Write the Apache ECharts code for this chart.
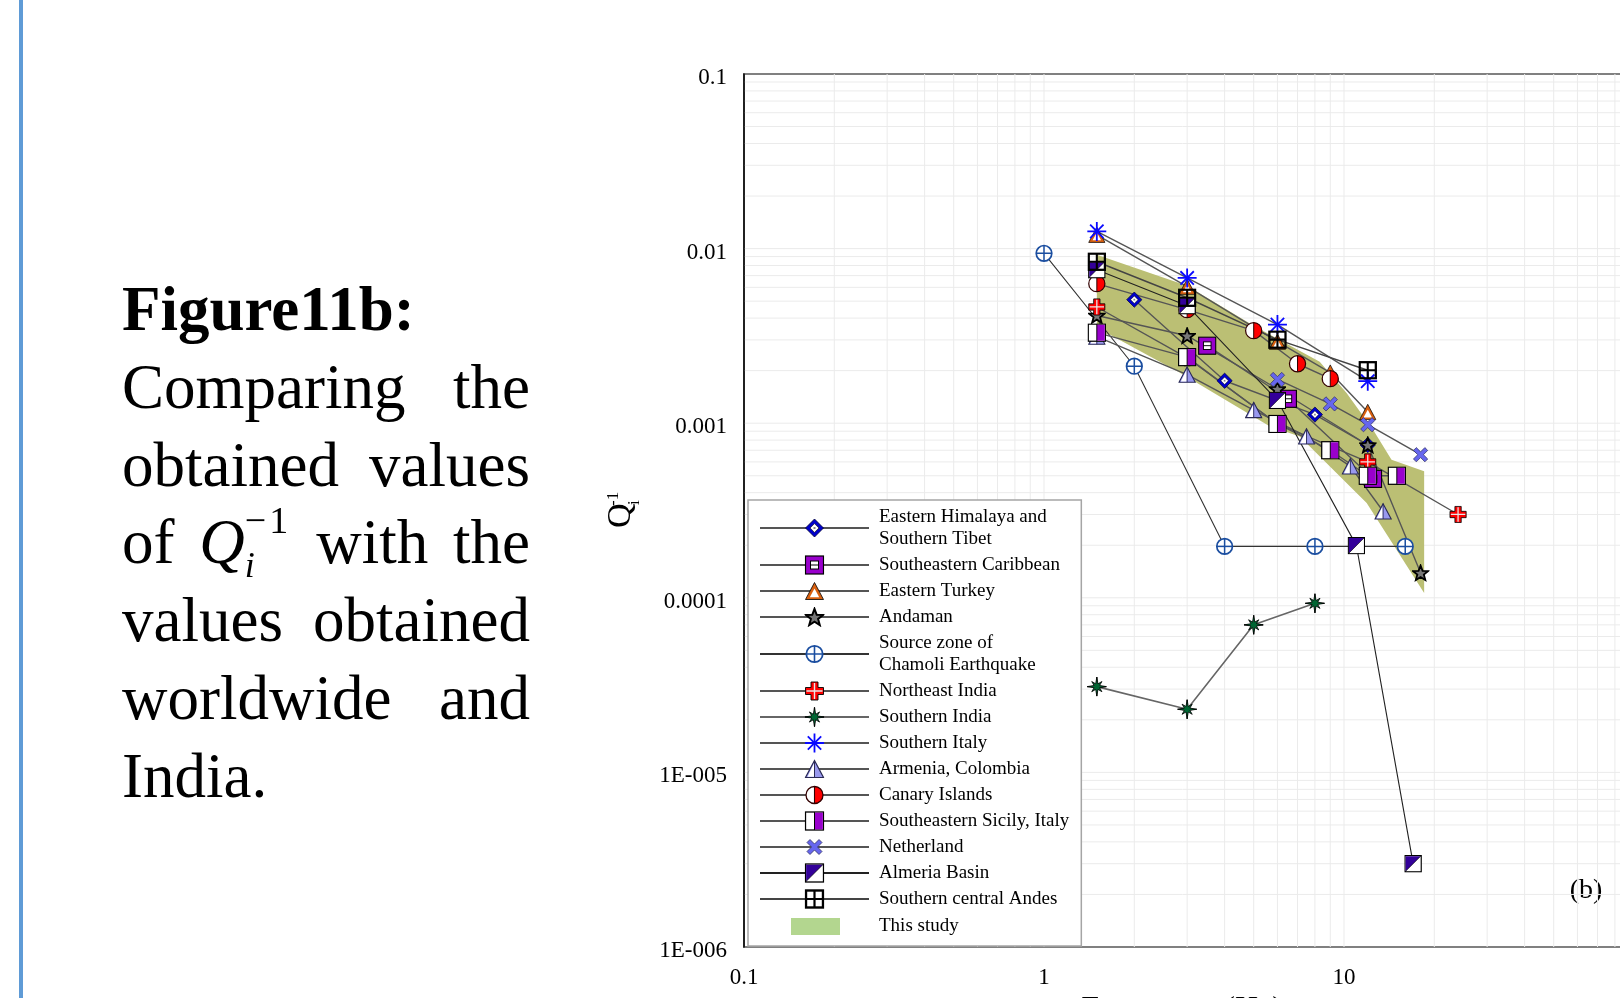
<!DOCTYPE html>
<html>
<head>
<meta charset="utf-8">
<title>Figure 11b</title>
<script src="https://cdn.jsdelivr.net/npm/echarts@6.0.0/dist/echarts.min.js"></script>
<style>
  html, body { margin:0; padding:0; background:#fff; }
  body { width:1620px; height:998px; overflow:hidden; position:relative; }
  #chart { position:absolute; left:0; top:0; width:1620px; height:998px; }
  #bar { position:absolute; left:19px; top:0; width:4px; height:998px; background:#5f9bd6; }
  #cap { position:absolute; left:122px; top:271px; width:408px; font-family:'Liberation Serif','Times New Roman',serif; font-size:63px; line-height:77.8px; color:#000; }
  #cap div { width:408px; height:77.8px; white-space:nowrap; }
  #cap div.j { text-align:justify; text-align-last:justify; white-space:normal; }
  #cap b { font-weight:bold; }
  .sb { font-size:36px; line-height:0; font-style:italic; position:relative; top:14px; }
  .sp { font-size:38px; line-height:0; position:relative; top:-30px; margin-left:-10px; letter-spacing:3px; }
</style>
</head>
<body>
<div id="bar"></div>
<div id="chart"></div>
<div id="cap">
  <div><b>Figure11b:</b></div>
  <div class="j">Comparing the</div>
  <div class="j">obtained values</div>
  <div class="j">of <i>Q</i><span class="sb">i</span><span class="sp">−1</span> with the</div>
  <div class="j">values obtained</div>
  <div class="j">worldwide and</div>
  <div>India.</div>
</div>
<script>
// ---------------- data ----------------
const xTickValues = [0.1, 1, 10, 100];
const xTickLabels = ['0.1', '1', '10', '100'];
const yTickValues = [1e-6, 1e-5, 1e-4, 1e-3, 1e-2, 1e-1];
const yTickLabels = ['1E-006', '1E-005', '0.0001', '0.001', '0.01', '0.1'];

const seriesNames = [
  'Eastern Himalaya and\nSouthern Tibet', 'Southeastern Caribbean', 'Eastern Turkey', 'Andaman',
  'Source zone of\nChamoli Earthquake', 'Northeast India', 'Southern India', 'Southern Italy',
  'Armenia, Colombia', 'Canary Islands', 'Southeastern Sicily, Italy', 'Netherland',
  'Almeria Basin', 'Southern central Andes', 'This study'
];

const himalayaF = [2, 4, 8, 12];
const himalayaQ = [0.0051, 0.00175, 0.00112, 0.00075];
const caribbeanF = [3.5, 6.5, 12.5];
const caribbeanQ = [0.00278, 0.00138, 0.00048];
const turkeyF = [1.5, 3, 6, 9, 12];
const turkeyQ = [0.0120, 0.00605, 0.00293, 0.00195, 0.00116];
const andamanF = [1.5, 3, 6, 12, 18];
const andamanQ = [0.00414, 0.00317, 0.00157, 0.00075, 0.000139];
const chamoliF = [1, 2, 4, 8, 16];
const chamoliQ = [0.0094, 0.00212, 0.000197, 0.000197, 0.000197];
const neIndiaF = [1.5, 3, 6, 12, 24];
const neIndiaQ = [0.00463, 0.00237, 0.00099, 0.0006, 0.0003];
const sIndiaF = [1.5, 3, 5, 8];
const sIndiaQ = [3.1e-5, 2.3e-5, 7.0e-5, 9.3e-5];
const sItalyF = [1.5, 3, 6, 12];
const sItalyQ = [0.01255, 0.00679, 0.00367, 0.00174];
const armeniaF = [1.5, 3, 5, 7.5, 10.5, 13.5];
const armeniaQ = [0.00313, 0.0019, 0.00119, 0.00084, 0.000566, 0.000313];
const canaryF = [1.5, 3, 5, 7, 9];
const canaryQ = [0.0063, 0.00447, 0.00339, 0.00219, 0.0018];
const sicilyF = [1.5, 3, 6, 9, 12, 15];
const sicilyQ = [0.0033, 0.00239, 0.00099, 0.0007, 0.0005, 0.0005];
const netherlandF = [6, 9, 12, 18];
const netherlandQ = [0.00178, 0.00129, 0.00098, 0.00066];
const almeriaF = [1.5, 3, 6, 11, 17];
const almeriaQ = [0.00757, 0.00471, 0.00135, 0.000199, 3.0e-6];
const andesF = [1.5, 3, 6, 12];
const andesQ = [0.00841, 0.00523, 0.00301, 0.00201];

// "This study" band outline (upper edge left->right, then lower edge right->left)
const bandF = [1.5, 3.0, 5.0, 8.3, 10.2, 12.5, 14.4, 18.5, 18.5, 11.9, 7.12, 5.65, 2.83, 1.66, 1.5];
const bandQ = [0.00923, 0.00613, 0.00362, 0.00225, 0.00149, 0.000918, 0.000618, 0.00053,
               0.0001066, 0.000349, 0.00084, 0.00096, 0.00195, 0.00321, 0.0033];

// gridline positions (1..9 per decade)
const gridMult = [1, 2, 3, 4, 5, 6, 7, 8, 9];
const xDecades = [0.1, 1, 10];
const yDecades = [1e-6, 1e-5, 1e-4, 1e-3, 1e-2];

// ---------------- symbols ----------------
function svgSym(body, w, h) {
  w = w || 20; h = h || 20;
  return 'image://data:image/svg+xml;charset=utf-8,' + encodeURIComponent(
    '<svg xmlns="http://www.w3.org/2000/svg" width="' + (w * 3) + '" height="' + (h * 3) +
    '" viewBox="0 0 ' + w + ' ' + h + '">' + body + '</svg>');
}
function starPts(n, rOut, rIn, cx, cy, rot) {
  const p = [];
  for (let k = 0; k < 2 * n; k++) {
    const a = (rot + k * 180 / n) * Math.PI / 180;
    const r = k % 2 === 0 ? rOut : rIn;
    p.push((cx + r * Math.cos(a)).toFixed(2) + ',' + (cy + r * Math.sin(a)).toFixed(2));
  }
  return p.join(' ');
}
function sIndiaPts() {
  const p = [];
  for (let k = 0; k < 16; k++) {
    const a = (-90 + k * 22.5) * Math.PI / 180;
    const r = k % 2 === 1 ? 3.0 : (k % 4 === 0 ? 9.5 : 7.2);
    p.push((10 + r * Math.cos(a)).toFixed(2) + ',' + (10 + r * Math.sin(a)).toFixed(2));
  }
  return p.join(' ');
}
const SYM = {
  himalaya: svgSym('<polygon points="10,1 19,10 10,19 1,10" fill="#0000cc" stroke="#000033" stroke-width="0.8"/>' +
    '<polygon points="10,5.6 14.4,10 10,14.4 5.6,10" fill="#fff" stroke="#000" stroke-width="0.6"/>' +
    '<rect x="9" y="9" width="2" height="2" fill="#888"/>'),
  caribbean: svgSym('<rect x="1" y="1" width="18" height="18" fill="#9900cc" stroke="#000" stroke-width="1.2"/>' +
    '<rect x="6" y="6" width="8" height="8" fill="#fff" stroke="#000" stroke-width="1"/>' +
    '<line x1="6" y1="10" x2="14" y2="10" stroke="#000" stroke-width="1"/>'),
  turkey: svgSym('<polygon points="10,1.5 19,18.5 1,18.5" fill="#d9600f" stroke="#000" stroke-width="0.8"/>' +
    '<polygon points="10,7.6 14.7,16.2 5.3,16.2" fill="#fff"/>'),
  andaman: svgSym('<polygon points="' + starPts(5, 9, 3.8, 10, 10.8, -90) + '" fill="#777" stroke="#000" stroke-width="2" stroke-linejoin="miter"/>'),
  chamoli: svgSym('<circle cx="10" cy="10" r="8.2" fill="#fff" stroke="#1b4ea0" stroke-width="1.8"/>' +
    '<line x1="10" y1="1.8" x2="10" y2="18.2" stroke="#1b4ea0" stroke-width="1.6"/>' +
    '<line x1="1.8" y1="10" x2="18.2" y2="10" stroke="#1b4ea0" stroke-width="1.6"/>'),
  neIndia: svgSym('<polygon points="6.5,1 13.5,1 13.5,6.5 19,6.5 19,13.5 13.5,13.5 13.5,19 6.5,19 6.5,13.5 1,13.5 1,6.5 6.5,6.5" fill="#ff0000" stroke="#000" stroke-width="0.9"/>' +
    '<line x1="10" y1="2" x2="10" y2="18" stroke="#e8e8e8" stroke-width="1.4"/>' +
    '<line x1="2" y1="10" x2="18" y2="10" stroke="#e8e8e8" stroke-width="1.4"/>'),
  sIndia: svgSym('<line x1="10" y1="0.3" x2="10" y2="19.7" stroke="#000" stroke-width="1.2"/>' +
    '<line x1="0.3" y1="10" x2="19.7" y2="10" stroke="#000" stroke-width="1.2"/>' +
    '<polygon points="' + sIndiaPts() + '" fill="#006633" stroke="#000" stroke-width="0.8"/>'),
  sItaly: svgSym('<g stroke="#0a0aff" stroke-width="1.8" stroke-linecap="butt">' +
    '<line x1="10" y1="0.5" x2="10" y2="19.5"/><line x1="0.5" y1="10" x2="19.5" y2="10"/>' +
    '<line x1="3.3" y1="3.3" x2="16.7" y2="16.7"/><line x1="16.7" y1="3.3" x2="3.3" y2="16.7"/></g>'),
  armenia: svgSym('<polygon points="10,1.5 19,18.5 1,18.5" fill="#9999ee" stroke="#2a2a55" stroke-width="1.2"/>' +
    '<polygon points="9.6,4.2 9.6,17.7 3,17.7" fill="#fff"/>' +
    '<line x1="10" y1="1.5" x2="10" y2="18.5" stroke="#2a2a55" stroke-width="1"/>'),
  canary: svgSym('<path d="M10,1.5 A8.5,8.5 0 0,1 10,18.5 Z" fill="#ff0000"/>' +
    '<path d="M10,1.5 A8.5,8.5 0 0,0 10,18.5 Z" fill="#fff"/>' +
    '<circle cx="10" cy="10" r="8.5" fill="none" stroke="#300" stroke-width="1.3"/>' +
    '<line x1="10" y1="1.5" x2="10" y2="18.5" stroke="#300" stroke-width="1.1"/>'),
  sicily: svgSym('<rect x="1" y="1" width="18" height="18" fill="#fff" stroke="#000" stroke-width="1.3"/>' +
    '<rect x="10" y="1.65" width="8.35" height="16.7" fill="#9900cc"/>' +
    '<line x1="10" y1="1" x2="10" y2="19" stroke="#000" stroke-width="1"/>'),
  netherland: svgSym('<path d="M2.5,5.5 L5.5,2.5 L10,7 L14.5,2.5 L17.5,5.5 L13,10 L17.5,14.5 L14.5,17.5 L10,13 L5.5,17.5 L2.5,14.5 L7,10 Z" fill="#6666ee" stroke="#333366" stroke-width="0.8"/>'),
  almeria: svgSym('<rect x="1" y="1" width="18" height="18" fill="#fff" stroke="#000" stroke-width="1.3"/>' +
    '<polygon points="1.65,1.65 18.35,1.65 1.65,18.35" fill="#330099"/>' +
    '<line x1="1" y1="19" x2="19" y2="1" stroke="#000" stroke-width="0.7"/>'),
  andes: svgSym('<rect x="1.5" y="1.5" width="17" height="17" fill="none" stroke="#000" stroke-width="2.4"/>' +
    '<line x1="10" y1="1.5" x2="10" y2="18.5" stroke="#000" stroke-width="2.2"/>' +
    '<line x1="1.5" y1="10" x2="18.5" y2="10" stroke="#000" stroke-width="2.2"/>')
};
const bandIcon = svgSym('<rect x="31" y="4" width="49" height="17" fill="#b3d68f"/>', 109, 25);

// ---------------- series ----------------
function zip(f, q) { return f.map((v, i) => [v, q[i]]); }
const defs = [
  [himalayaF, himalayaQ, SYM.himalaya, 17, '#555', 1.4],
  [caribbeanF, caribbeanQ, SYM.caribbean, 19, '#555', 1.4],
  [turkeyF, turkeyQ, SYM.turkey, 18, '#555', 1.4],
  [andamanF, andamanQ, SYM.andaman, 18, '#555', 1.4],
  [chamoliF, chamoliQ, SYM.chamoli, 19, '#333', 1.1],
  [neIndiaF, neIndiaQ, SYM.neIndia, 18, '#555', 1.4],
  [sIndiaF, sIndiaQ, SYM.sIndia, 20, '#666', 1.6],
  [sItalyF, sItalyQ, SYM.sItaly, 20, '#555', 1.4],
  [armeniaF, armeniaQ, SYM.armenia, 18, '#555', 1.4],
  [canaryF, canaryQ, SYM.canary, 19, '#555', 1.4],
  [sicilyF, sicilyQ, SYM.sicily, 19, '#555', 1.4],
  [netherlandF, netherlandQ, SYM.netherland, 19, '#555', 1.4],
  [almeriaF, almeriaQ, SYM.almeria, 18, '#222', 1.1],
  [andesF, andesQ, SYM.andes, 19, '#444', 1.4]
];

const series = [];
// gridlines
const xGrid = [], yGrid = [];
xDecades.forEach(d => gridMult.forEach(m => { const v = +(d * m).toPrecision(3); if (v > 0.1) xGrid.push([v]); }));
[100].forEach(v => xGrid.push([v]));
yDecades.forEach(d => gridMult.forEach(m => { const v = +(d * m).toPrecision(3); if (v > 1e-6) yGrid.push([0.1, v]); }));
series.push({
  type: 'custom', name: '_gx', silent: true, z: 0, data: xGrid, encode: { x: 0 },
  renderItem: function (params, api) {
    const v = api.value(0);
    const a = api.coord([v, 0.1]), b = api.coord([v, 1e-6]);
    return { type: 'line', shape: { x1: a[0], y1: a[1], x2: b[0], y2: b[1] }, style: { stroke: '#ebebeb', lineWidth: 1 } };
  }
});
series.push({
  type: 'custom', name: '_gy', silent: true, z: 0, data: yGrid, encode: { x: 0, y: 1 },
  renderItem: function (params, api) {
    const v = api.value(1);
    const a = api.coord([0.1, v]), b = api.coord([100, v]);
    return { type: 'line', shape: { x1: a[0], y1: a[1], x2: b[0], y2: b[1] }, style: { stroke: '#ebebeb', lineWidth: 1 } };
  }
});
// band
series.push({
  type: 'custom', name: 'This study', z: 1, silent: true,
  data: zip(bandF, bandQ), encode: { x: 0, y: 1 },
  renderItem: function (params, api) {
    if (params.dataIndex !== 0) return null;
    const pts = bandF.map((f, i) => api.coord([f, bandQ[i]]));
    return { type: 'polygon', shape: { points: pts }, style: { fill: '#bbbf74' } };
  }
});
defs.forEach((d, i) => {
  series.push({
    type: 'line', name: seriesNames[i], data: zip(d[0], d[1]), z: 2,
    symbol: d[2], symbolSize: d[3], showSymbol: true, showAllSymbol: true,
    lineStyle: { color: d[4], width: d[5] }, itemStyle: { color: d[4] },
    emphasis: { disabled: true }, silent: true
  });
});

const legendData = seriesNames.map(n => n === 'This study' ? { name: n, icon: bandIcon } : { name: n });

function fmtLog(vals, labels) {
  return function (v) {
    const e = Math.round(Math.log10(v));
    for (let i = 0; i < vals.length; i++) if (Math.round(Math.log10(vals[i])) === e) return labels[i];
    return '';
  };
}

const chart = echarts.init(document.getElementById('chart'), null, { renderer: 'canvas' });
chart.setOption({
  animation: false,
  backgroundColor: 'transparent',
  grid: { left: 744, top: 74, right: -24, bottom: 51, containLabel: false, outerBoundsMode: 'none',
          show: true, borderColor: '#808080', borderWidth: 2, backgroundColor: 'transparent' },
  xAxis: {
    type: 'log', logBase: 10, min: 0.1, max: 100,
    name: 'Frequency (Hz)', nameLocation: 'middle', nameGap: 38,
    nameTextStyle: { fontFamily: 'Liberation Serif', fontSize: 32, color: '#000', padding: [0, 24, 0, 0] },
    axisLine: { show: false }, axisTick: { show: false }, splitLine: { show: false },
    axisLabel: { fontFamily: 'Liberation Serif', fontSize: 23, color: '#000', margin: 19,
                 formatter: fmtLog(xTickValues, xTickLabels), showMinLabel: true, showMaxLabel: true }
  },
  yAxis: {
    type: 'log', logBase: 10, min: 1e-6, max: 0.1,
    axisLine: { show: true, lineStyle: { color: '#000', width: 1.5 } },
    axisTick: { show: false }, splitLine: { show: false },
    axisLabel: { fontFamily: 'Liberation Serif', fontSize: 23, color: '#000', margin: 17,
                 verticalAlign: 'top', lineHeight: 8,
                 formatter: fmtLog(yTickValues, yTickLabels), showMinLabel: true, showMaxLabel: true }
  },
  legend: {
    data: legendData, orient: 'vertical', left: 748, top: 500,
    padding: [6, 12, 7, 11], itemWidth: 109, itemHeight: 25, itemGap: 4,
    backgroundColor: '#fff', borderColor: '#a5a5a5', borderWidth: 1.5, borderRadius: 0,
    selectedMode: false, inactiveColor: '#000',
    textStyle: { fontFamily: 'Liberation Serif', fontSize: 19, color: '#000', lineHeight: 22, padding: [0, 0, 0, 5] }
  },
  graphic: [
    { type: 'group', x: 621, y: 528, rotation: Math.PI / 2, silent: true, children: [
      { type: 'text', x: 0, y: 0, style: { text: 'Q', font: '34px "Liberation Serif"', fill: '#000', align: 'left', verticalAlign: 'middle' } },
      { type: 'text', x: 22, y: -7, style: { text: '-1', font: '17px "Liberation Serif"', fill: '#000', align: 'left', verticalAlign: 'middle' } },
      { type: 'text', x: 23, y: 14, style: { text: 'i', font: '17px "Liberation Serif"', fill: '#000', align: 'left', verticalAlign: 'middle' } }
    ] },
    { type: 'text', x: 1586, y: 891, silent: true, style: { text: '(b)', font: '28px "Liberation Serif"', fill: '#000', align: 'center', verticalAlign: 'middle' } }
  ],
  series: series
});
</script>
</body>
</html>
